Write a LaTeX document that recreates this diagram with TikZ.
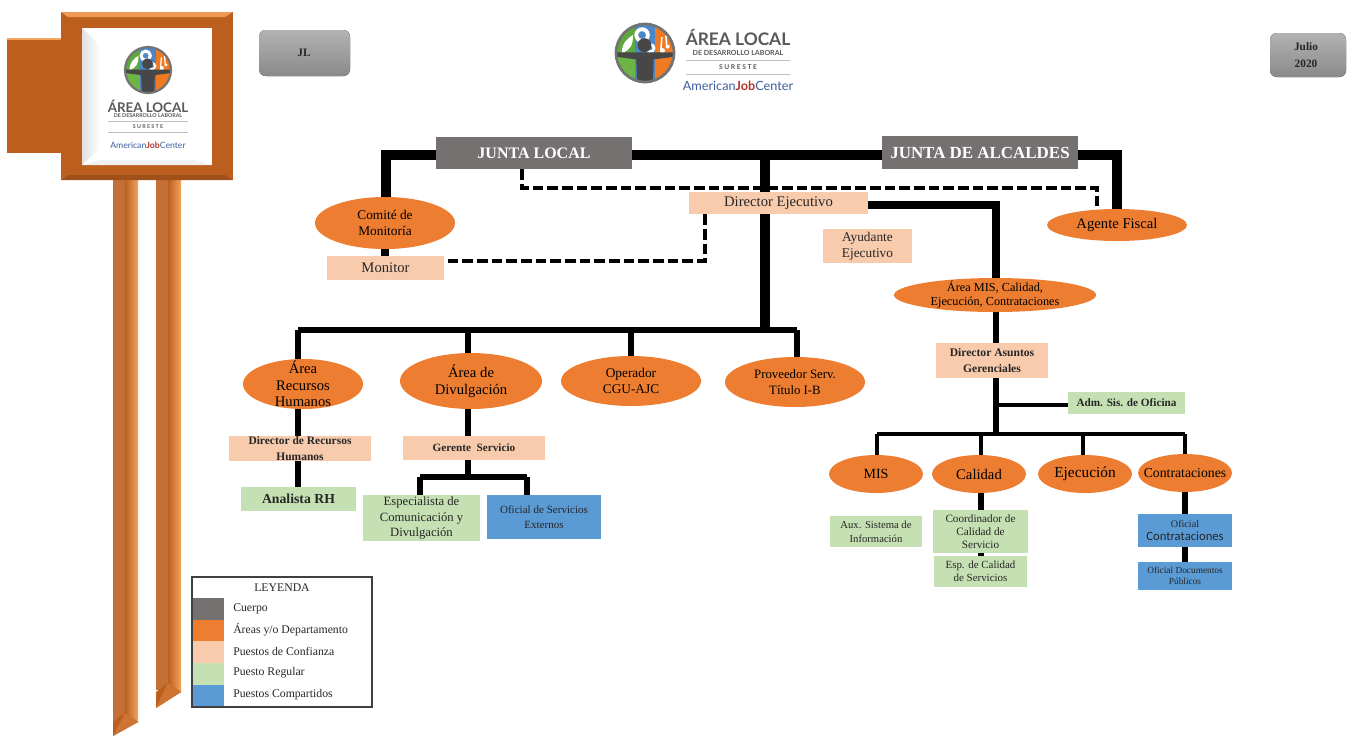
\documentclass[tikz,border=0pt]{standalone}
\usepackage{fontspec}
\setmainfont{Liberation Serif}
\newfontfamily\logofont{Lato}
\newfontfamily\calib{Carlito}
\usetikzlibrary{shapes.geometric,backgrounds,calc}
\definecolor{cgray}{HTML}{767171}
\definecolor{corange}{HTML}{ED7D31}
\definecolor{cpeach}{HTML}{F8CBAD}
\definecolor{cgreen}{HTML}{C5E0B3}
\definecolor{cblue}{HTML}{5B9BD5}
\definecolor{cwood}{HTML}{BC5F1E}
\definecolor{cwoodl}{HTML}{F4A460}
\definecolor{cink}{HTML}{262626}
\definecolor{lgreen}{HTML}{5FA83C}
\definecolor{lgreenb}{HTML}{6CB544}
\definecolor{lblue}{HTML}{4A86C8}
\definecolor{lorange}{HTML}{F07A22}
\definecolor{lgrayt}{HTML}{595959}
\definecolor{lnavy}{HTML}{3B5E9C}
\definecolor{lred}{HTML}{B5342A}
\tikzset{
  base/.style={inner sep=0pt,align=center,text=cink,font=\fontsize{10}{12}\selectfont},
  peach/.style={base,fill=cpeach},
  green/.style={base,fill=cgreen},
  blue/.style={base,fill=cblue},
  body/.style={base,fill=cgray,text=white,font=\bfseries\fontsize{12}{14}\selectfont},
  oval/.style={base,ellipse,fill=corange,text=black,inner sep=-14pt},
  wire/.style={draw=black,line width=#1,line cap=butt,line join=miter},
  wire/.default=5,
  dash wire/.style={draw=black,line width=3pt,dash pattern=on 8pt off 3pt},
  grayblock/.style={rounded corners=5pt,top color=black!30,bottom color=black!46,draw=none},
  legendtxt/.style={inner sep=0pt,anchor=west,text=cink,font=\fontsize{8.8}{10}\selectfont},
}
\newcommand\mkbox[7][]{% name x0 y0 x1 y1 style text
  \pgfmathsetmacro\wdv{(#5-#3)*0.75}\pgfmathsetmacro\htv{(#6-#4)*0.75}
  \pgfmathsetmacro\cxv{(#3+#5)/2}\pgfmathsetmacro\cyv{(#4+#6)/2}
  \node[#1,minimum width=\wdv pt,minimum height=\htv pt] (#2) at (\cxv,\cyv) {#7};}
\newcommand\logomark[3]{% cx cy r
  \begin{scope}[shift={(#1,#2)},x=#3*0.75pt,y=-#3*0.75pt]
    \begin{scope}
      \clip (0,0) circle (1);
      \fill[lgreen] (-1,-1) rectangle (-.34,.1);
      \fill[white] (-.8,0) .. controls (-.8,-.35) and (-.6,-.5) .. (-.42,-.62) .. controls (-.4,-.3) and (-.5,-.1) .. cycle;
      \fill[lblue] (-.34,-1) rectangle (.36,1);
      \fill[lorange] (.36,-1) rectangle (1,1);
      \fill[lgreenb] (-1,.1) rectangle (-.34,1);
      \draw[white,line width=#3*0.1pt] (-.1,-.62) circle (.2);
      \draw[white,line width=#3*0.07pt] (.18,-.17) circle (.13);
      \fill[white] (.6,-.08) circle (.09) (.78,-.22) circle (.07);
      \draw[white,line width=#3*0.04pt] (.55,-.1) -- (.58,-.55) (.75,-.22) -- (.72,-.6);
      \fill[black!72] (-1,-.02) -- (1,-.02) -- (1,.13) -- (.3,.22) -- (.27,1) -- (-.27,1) -- (-.3,.22) -- (-1,.13) -- cycle;
      \fill[black!72] (-.02,-.27) circle (.24);
    \end{scope}
    \draw[black!55,line width=#3*0.07pt] (0,0) circle (1);
  \end{scope}}
\newcommand\ajc[3]{% x y size
  \node[inner sep=0pt,font=\logofont\fontsize{#3}{#3}\selectfont] at (#1,#2) {\textcolor{lnavy}{American}\textcolor{lred}{\textbf{Job}}\textcolor{lnavy}{Center}};}
\begin{document}
\begin{tikzpicture}[x=0.75pt,y=-0.75pt]
\useasboundingbox (0,0) rectangle (1348,736);

% sign post
\fill[cwood!90!white] (113,180) rectangle (125,722);
\shade[left color=cwood,right color=cwoodl] (125,180) rectangle (138,722);
\fill[cwood] (113,722) -- (125,713) -- (138,722) -- (113,736) -- cycle;
\fill[cwood!70!cwoodl] (125,713) -- (138,722) -- (113,736) -- cycle;
\fill[cwood!90!white] (156,180) rectangle (168,690);
\shade[left color=cwood,right color=cwoodl] (168,180) rectangle (181,692);
\fill[cwood] (156,692) -- (168,683) -- (181,692) -- (156,708) -- cycle;
\fill[cwood!70!cwoodl] (168,683) -- (181,692) -- (156,708) -- cycle;
% left box
\fill[cwood] (7,39) rectangle (65,153);
\draw[cwoodl,line width=1pt] (7,39) -- (61,39);
\fill[cwood!88!black] (61,39) -- (76,54) -- (76,140) -- (61,153) -- cycle;
% frame
\fill[cwood] (61,12) rectangle (233,180);
\fill[cwoodl!85!cwood] (61,12) -- (233,12) -- (225,17) -- (68,17) -- cycle;
\fill[cwood!85!black] (61,180) -- (233,180) -- (225,175) -- (68,175) -- cycle;
\fill[white] (82,28) rectangle (212,165);
\shade[left color=black!12,right color=white] (82,28) -- (100,45) -- (100,148) -- (82,165) -- cycle;
\fill[black!6] (82,165) -- (100,160) -- (195,160) -- (212,165) -- cycle;
\logomark{148}{70}{23}
\node[inner sep=0pt,text=lgrayt,font=\logofont\bfseries\fontsize{10}{10}\selectfont] at (148,106) {ÁREA LOCAL};
\node[inner sep=0pt,text=lgrayt,font=\logofont\bfseries\fontsize{4}{4}\selectfont] at (148,116) {DE DESARROLLO LABORAL};
\draw[black!25] (108,121) -- (188,121) (108,132) -- (188,132);
\node[inner sep=0pt,text=lgrayt,font=\logofont\bfseries\fontsize{4}{4}\selectfont] at (148,127) {S U R E S T E};
\ajc{148}{145}{6.5}

% top badges
\fill[grayblock] (259,30) rectangle (350,76);
\node[base,font=\bfseries\fontsize{8.5}{10}\selectfont] (jlbadge) at (304,53) {JL};
\fill[grayblock] (1270,33) rectangle (1346,77);
\node[base,font=\bfseries\fontsize{8.5}{13}\selectfont] (fecha) at (1306,55) {Julio\\2020};

% top logo
\logomark{645}{53}{29}
\node[inner sep=0pt,text=lgrayt,font=\logofont\bfseries\fontsize{13}{13}\selectfont] at (738,38) {ÁREA LOCAL};
\node[inner sep=0pt,text=lgrayt,font=\logofont\bfseries\fontsize{5.3}{5.3}\selectfont] at (738,53) {DE DESARROLLO LABORAL};
\draw[black!25] (686,60) -- (790,60) (686,74) -- (790,74);
\node[inner sep=0pt,text=lgrayt,font=\logofont\bfseries\fontsize{5}{5}\selectfont] at (738,67) {S U R E S T E};
\ajc{738}{86}{9.5}

% nodes
\mkbox[body]{jl}{436}{137}{632}{169}{JUNTA LOCAL}
\mkbox[body,font=\bfseries\fontsize{12.7}{14}\selectfont]{ja}{882}{136}{1078}{169}{JUNTA DE ALCALDES}
\mkbox[peach,font=\fontsize{11}{13}\selectfont]{de}{689}{192}{868}{214}{Director Ejecutivo}
\mkbox[peach]{ae}{823}{229}{912}{263}{Ayudante\\Ejecutivo}
\mkbox[peach,font=\fontsize{11}{13}\selectfont]{mon}{327}{256}{444}{280}{Monitor}
\mkbox[oval]{com}{315}{197}{455}{249}{Comité de\\Monitoría}
\mkbox[oval,font=\fontsize{11}{13}\selectfont]{af}{1047}{209}{1187}{241}{Agente Fiscal}
\mkbox[oval,font=\fontsize{9.2}{10.5}\selectfont,inner sep=-30pt]{mis0}{894}{278}{1096}{312}{Área MIS, Calidad,\\Ejecución, Contrataciones}
\mkbox[peach,font=\bfseries\fontsize{8.7}{12}\selectfont]{dag}{936}{343}{1048}{378}{Director Asuntos\\Gerenciales}
\mkbox[green,font=\bfseries\fontsize{8.4}{10}\selectfont]{adm}{1068}{392}{1185}{414}{Adm. Sis. de Oficina}
\mkbox[oval,font=\fontsize{11}{12.5}\selectfont,inner sep=-20pt]{rh}{243}{359}{363}{409}{Área\\Recursos\\Humanos}
\mkbox[oval,font=\fontsize{11}{13}\selectfont]{div}{400}{353}{542}{409}{Área de\\Divulgación}
\mkbox[oval]{cgu}{561}{356}{701}{406}{Operador\\CGU-AJC}
\mkbox[oval,font=\fontsize{9.6}{12}\selectfont]{tit}{725}{357}{865}{407}{Proveedor Serv.\\Título I-B}
\mkbox[peach,font=\bfseries\fontsize{8.6}{12}\selectfont]{drh}{229}{436}{371}{461}{Director de Recursos\\Humanos}
\mkbox[green,font=\bfseries\fontsize{10.3}{12}\selectfont]{arh}{241}{487}{356}{511}{Analista RH}
\mkbox[peach,font=\bfseries\fontsize{8.4}{10}\selectfont]{ger}{403}{436}{545}{460}{Gerente\ \ Servicio}
\mkbox[green,font=\fontsize{9.5}{11.5}\selectfont]{esp}{363}{495}{480}{541}{Especialista de\\Comunicación y\\Divulgación}
\mkbox[blue,font=\fontsize{8.3}{11}\selectfont]{ofe}{487}{495}{601}{539}{Oficial de Servicios\\Externos}
\mkbox[oval,font=\fontsize{10.5}{12}\selectfont]{mis}{829}{455}{923}{493}{MIS}
\mkbox[oval,font=\fontsize{11}{12}\selectfont]{cal}{932}{455}{1026}{493}{Calidad}
\mkbox[oval,font=\fontsize{11.5}{12}\selectfont,inner sep=-20pt]{eje}{1038}{455}{1132}{493}{Ejecución}
\mkbox[oval,font=\fontsize{10.3}{12}\selectfont,inner sep=-20pt]{con}{1138}{454}{1232}{492}{Contrataciones}
\mkbox[green,font=\fontsize{8}{10.5}\selectfont]{aux}{830}{516}{922}{547}{Aux. Sistema de\\Información}
\mkbox[green,font=\fontsize{8.4}{9.8}\selectfont]{coo}{933}{510}{1028}{553}{Coordinador de\\Calidad de\\Servicio}
\mkbox[green,font=\fontsize{8.2}{10}\selectfont]{ecs}{934}{556}{1027}{587}{Esp. de Calidad\\de Servicios}
\mkbox[blue,font=\fontsize{7.6}{9.5}\selectfont]{ofc}{1138}{514}{1232}{547}{Oficial\\{\calib\fontsize{9.5}{9.5}\selectfont Contrataciones}}
\mkbox[blue,font=\fontsize{7}{8.2}\selectfont]{ofd}{1138}{562}{1232}{590}{Oficial Documentos\\Públicos}

% junction coordinates
\coordinate (jleft) at (386,155);
\coordinate (jright) at (1117,155);
\coordinate (jmain) at (765,155);
\coordinate (jbus) at (765,330);
\coordinate (busl) at (298,330);
\coordinate (busd) at (468,330);
\coordinate (busc) at (631,330);
\coordinate (busr) at (797,330);
\coordinate (dirl) at (996,205);
\coordinate (d1) at (522,188);
\coordinate (d2) at (1097,188);
\coordinate (d3) at (705,261);
\coordinate (tadm) at (996,405);
\coordinate (bus2m) at (996,434);
\coordinate (b2a) at (877,434);
\coordinate (b2b) at (981,434);
\coordinate (b2c) at (1083,434);
\coordinate (b2d) at (1185,434);
\coordinate (gb) at (468,477);
\coordinate (gl) at (420,477);
\coordinate (gr) at (527,477);

\begin{pgfonlayer}{background}
  \fill[white] (0,0) rectangle (1348,736);
  \draw[wire=7pt] (jl.east |- jmain) -- (ja.west |- jmain);
  \draw[wire=7pt] (jl.west |- jleft) -- (jleft) -- (jleft |- com.north);
  \draw[wire=7pt] (ja.east |- jright) -- (jright) -- (jright |- af.north);
  \draw[wire=8pt] (jmain) -- (jbus);
  \draw[wire=4.5pt] (busl) -- (busr);
  \draw[wire=4.5pt] (busl) -- (busl |- rh.north);
  \draw[wire=4.5pt] (busd) -- (busd |- div.north);
  \draw[wire=4.5pt] (busc) -- (busc |- cgu.north);
  \draw[wire=4.5pt] (busr) -- (busr |- tit.north);
  \draw[wire=6pt] (de.east |- dirl) -- (dirl) -- (dirl |- mis0.north);
  \draw[wire=6pt] (com.south) -- (com.south |- mon.north);
  \draw[wire=5pt] (mis0.south -| dirl) -- (dag.north -| dirl);
  \draw[wire=5pt] (dag.south -| dirl) -- (bus2m);
  \draw[wire=3.5pt] (tadm) -- (adm.west |- tadm);
  \draw[wire=3.5pt] (b2a) -- (b2d);
  \draw[wire=3.5pt] (b2a) -- (b2a |- mis.north);
  \draw[wire=3.5pt] (b2b) -- (b2b |- cal.north);
  \draw[wire=3.5pt] (b2c) -- (b2c |- eje.north);
  \draw[wire=3.5pt] (b2d) -- (b2d |- con.north);
  \draw[wire=4.5pt] (busl |- rh.south) -- (busl |- arh.north);
  \draw[wire=4.5pt] (busd |- div.south) -- (busd |- ger.north);
  \draw[wire=3.8pt] (busd |- ger.south) -- (gb);
  \draw[wire=3.8pt] (gl) -- (gr);
  \draw[wire=3.8pt] (gl) -- (gl |- esp.north);
  \draw[wire=3.8pt] (gr) -- (gr |- ofe.north);
  \draw[wire=4.5pt] (b2b |- cal.south) -- (b2b |- coo.north);
  \draw[wire=4.5pt] (b2b |- coo.south) -- (b2b |- ecs.north);
  \draw[wire=4.5pt] (b2d |- con.south) -- (b2d |- ofc.north);
  \draw[wire=4.5pt] (b2d |- ofc.south) -- (b2d |- ofd.north);
\end{pgfonlayer}
\draw[dash wire] (d1 |- jl.south) -- (d1) -- (d2) -- (d2 |- af.north);
\draw[dash wire] (d3 |- de.south) -- (d3) -- (mon.east |- d3);

% legend
\mkbox[base,font=\fontsize{8.8}{10}\selectfont,text=cink]{leyt}{192}{579}{372}{597}{LEYENDA}
\fill[cgray] (193,598) rectangle (224,620);
\fill[corange] (193,620) rectangle (224,641);
\fill[cpeach] (193,641) rectangle (224,663);
\fill[cgreen] (193,663) rectangle (224,685);
\fill[cblue] (193,685) rectangle (224,706);
\draw[black!75,line width=1pt] (192,577) rectangle (372,707);
\node[legendtxt] (l1) at (233,609) {Cuerpo};
\node[legendtxt] (l2) at (233,630) {Áreas y/o Departamento};
\node[legendtxt] (l3) at (233,651) {Puestos de Confianza};
\node[legendtxt] (l4) at (233,673) {Puesto Regular};
\node[legendtxt] (l5) at (233,695) {Puestos Compartidos};
\end{tikzpicture}
\end{document}
